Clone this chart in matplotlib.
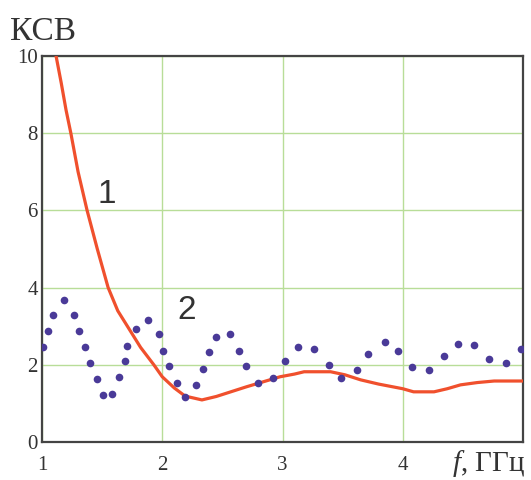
import matplotlib
matplotlib.use("Agg")
import matplotlib.pyplot as plt

plt.rcParams['font.family'] = ['Liberation Serif', 'DejaVu Serif']
plt.rcParams['mathtext.fontset'] = 'custom'
plt.rcParams['mathtext.rm'] = 'Liberation Serif'
plt.rcParams['mathtext.it'] = 'Liberation Serif:italic'

# curve 1 (red line): frequency, GHz -> VSWR
f1 = [1.117, 1.16, 1.20, 1.24, 1.30, 1.375, 1.46, 1.55, 1.63, 1.71, 1.82, 1.93,
      2.0, 2.10, 2.19, 2.33, 2.45, 2.57, 2.70, 2.84, 2.98, 3.10, 3.18, 3.30,
      3.40, 3.52, 3.65, 3.80, 4.0, 4.09, 4.26, 4.37, 4.48, 4.62, 4.76, 5.0]
ksv1 = [10.0, 9.3, 8.6, 8.0, 7.0, 6.0, 5.0, 4.0, 3.4, 3.0, 2.45, 2.0,
        1.69, 1.40, 1.19, 1.09, 1.18, 1.30, 1.43, 1.56, 1.69, 1.76, 1.82, 1.82,
        1.82, 1.74, 1.61, 1.50, 1.38, 1.30, 1.30, 1.38, 1.48, 1.54, 1.58, 1.58]

# curve 2 (dots)
f2 = [1.005, 1.05, 1.09, 1.18, 1.27, 1.31, 1.36, 1.40, 1.46, 1.51, 1.58, 1.64,
      1.69, 1.71, 1.78, 1.88, 1.97, 2.01, 2.06, 2.12, 2.19, 2.28, 2.34, 2.39,
      2.45, 2.56, 2.64, 2.70, 2.80, 2.92, 3.02, 3.13, 3.26, 3.39, 3.49, 3.62,
      3.71, 3.85, 3.96, 4.08, 4.22, 4.34, 4.46, 4.59, 4.72, 4.86, 4.98]
ksv2 = [2.46, 2.87, 3.30, 3.67, 3.30, 2.87, 2.46, 2.04, 1.63, 1.21, 1.25, 1.68,
        2.10, 2.50, 2.93, 3.16, 2.79, 2.37, 1.96, 1.53, 1.17, 1.48, 1.90, 2.33,
        2.73, 2.79, 2.37, 1.96, 1.52, 1.67, 2.09, 2.46, 2.42, 2.00, 1.67, 1.86,
        2.28, 2.60, 2.37, 1.95, 1.86, 2.23, 2.55, 2.51, 2.14, 2.04, 2.42]

xticks = [1, 2, 3, 4]
yticks = [0, 2, 4, 6, 8, 10]

fig = plt.figure(figsize=(5.31, 4.80), dpi=100)
ax = fig.add_axes([42 / 531, 38 / 480, 481 / 531, 386 / 480])

ax.plot(f1, ksv1, '-', color='#f0502d', linewidth=2.3, zorder=3)
ax.plot(f2, ksv2, 'o', color='#4a3a98', markersize=5.5, markeredgewidth=0, zorder=4)

ax.set_xlim(1, 5)
ax.set_ylim(0, 10)
ax.set_xticks(xticks)
ax.set_yticks(yticks)
ax.tick_params(length=0, labelsize=15, colors='#333333')
ax.tick_params(axis='x', pad=10)
ax.tick_params(axis='y', pad=3)
ax.grid(True, color='#b8dd98', linewidth=1.0)
ax.set_axisbelow(True)
for s in ax.spines.values():
    s.set_color('#444444')
    s.set_linewidth(1.6)

ax.text(1.54, 6.41, '1', family='Liberation Sans', fontsize=24, color='#333333',
        ha='center', va='center')
ax.text(2.20, 3.41, '2', family='Liberation Sans', fontsize=24, color='#333333',
        ha='center', va='center')

fig.text(10 / 531, 1 - 40 / 480, 'КСВ', fontsize=24, color='#333333',
         ha='left', va='baseline')
fig.text(525 / 531, 1 - 471 / 480, '$f$, ГГц', fontsize=21, color='#333333',
         ha='right', va='baseline')

fig.savefig('out.png', dpi=100)
